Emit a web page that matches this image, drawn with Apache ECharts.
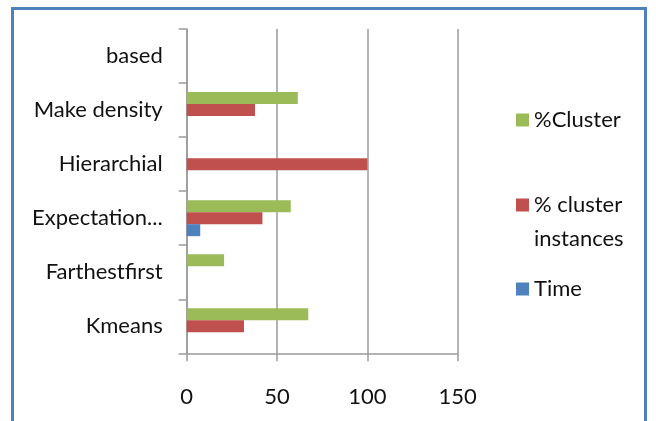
<!DOCTYPE html>
<html>
<head>
<meta charset="utf-8">
<script src="https://cdn.jsdelivr.net/npm/echarts@6/dist/echarts.min.js"></script>
<style>
  html, body { margin: 0; padding: 0; background: #fff; }
  #frame {
    position: absolute; left: 11px; top: 7px; width: 630px; height: 440px;
    border: 3px solid #4f81bd; box-sizing: content-box;
  }
  #chart { position: absolute; left: 0; top: 0; width: 656px; height: 421px; }
</style>
</head>
<body>
<div id="frame"></div>
<div id="chart"></div>
<script>
// Clustering algorithms, listed from the bottom of the axis upwards
const categories = ['Kmeans', 'Farthestfirst', 'Expectation...', 'Hierarchial', 'Make density', 'based'];

const seriesNames = ['%Cluster', '% cluster instances', 'Time'];
const clusterValues = [67.3, 20.7, 57.6, 0, 61.5, null];
const clusterInstanceValues = [31.7, 0, 41.9, 100, 37.8, null];
const timeValues = [0, 0, 7.5, 0, 0, null];

const xTicks = { min: 0, max: 150, interval: 50 };

const colors = { time: '#4f81bd', instances: '#c0504d', cluster: '#9bbb59' };
const font = 'Lato, "Open Sans", sans-serif';
const gridColor = '#9a9a9a';
const textColor = '#111';

const chart = echarts.init(document.getElementById('chart'), null, { renderer: 'canvas' });

const legendText = { fontFamily: font, fontSize: 22, color: textColor, lineHeight: 26 };

// one legend block per entry so each can sit at its own height
function legendEntry(name, top, extra) {
  return Object.assign({
    data: [name], left: 516, top: top, padding: 0,
    itemWidth: 13, itemHeight: 13, itemGap: 0, selectedMode: false,
    icon: 'rect', textStyle: legendText
  }, extra || {});
}

chart.setOption({
  animation: false,
  backgroundColor: 'transparent',
  grid: { left: 186.7, right: 198.3, top: 29, bottom: 67.7, containLabel: false },
  legend: [
    legendEntry(seriesNames[0], 107),
    // blank first line keeps the icon level with "% cluster"
    legendEntry(seriesNames[1], 154, {
      formatter: () => ' \n% cluster\ninstances',
      textStyle: Object.assign({}, legendText, { lineHeight: 34 })
    }),
    legendEntry(seriesNames[2], 276)
  ],
  xAxis: {
    type: 'value',
    min: xTicks.min, max: xTicks.max, interval: xTicks.interval,
    axisLine: { show: true, lineStyle: { color: gridColor, width: 1.5 } },
    axisTick: { show: true, length: 8, lineStyle: { color: gridColor, width: 1.5 } },
    splitLine: { show: true, lineStyle: { color: gridColor, width: 1.5 } },
    axisLabel: { fontFamily: font, fontSize: 22, color: textColor, margin: 33 }
  },
  yAxis: {
    type: 'category',
    data: categories,
    axisLine: { show: true, lineStyle: { color: gridColor, width: 1.5 } },
    axisTick: { show: true, length: 8, alignWithLabel: false, lineStyle: { color: gridColor, width: 1.5 } },
    axisLabel: { fontFamily: font, fontSize: 22, color: textColor, margin: 24 }
  },
  series: [
    {
      name: seriesNames[0], type: 'bar', data: clusterValues,
      barWidth: 12, barGap: '0%', itemStyle: { color: colors.cluster }
    },
    {
      name: seriesNames[1], type: 'bar', data: clusterInstanceValues,
      barWidth: 12, barGap: '0%', itemStyle: { color: colors.instances }
    },
    {
      name: seriesNames[2], type: 'bar', data: timeValues,
      barWidth: 12, barGap: '0%', itemStyle: { color: colors.time }
    }
  ]
});
</script>
</body>
</html>
